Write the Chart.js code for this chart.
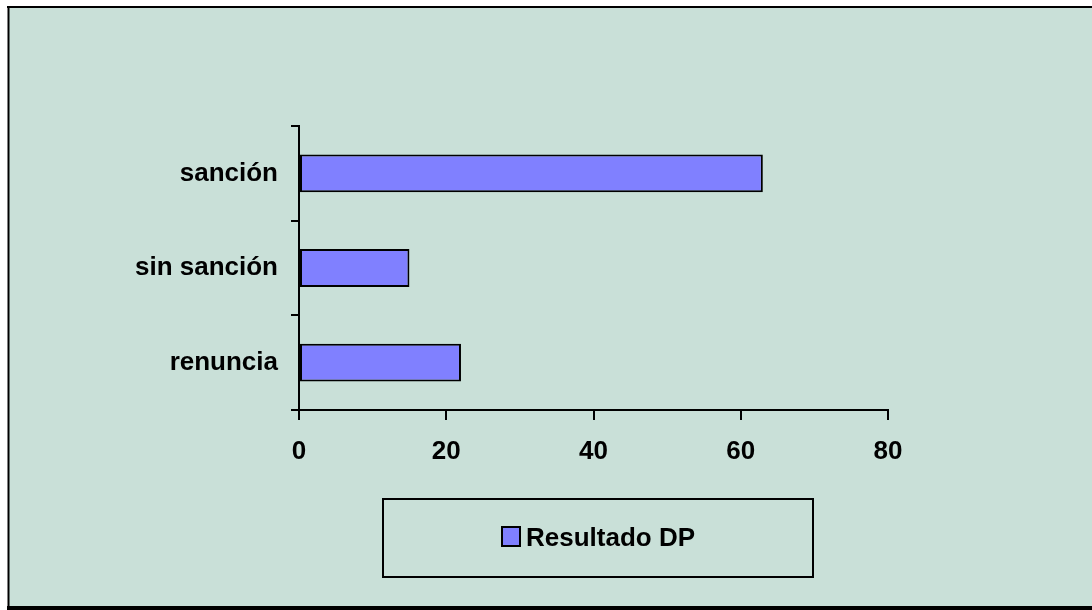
<!DOCTYPE html>
<html>
<head>
<meta charset="utf-8">
<script src="https://cdn.jsdelivr.net/npm/chart.js@4/dist/chart.umd.min.js"></script>
<style>
  html, body { margin: 0; padding: 0; background: #ffffff; }
  #wrap { width: 1092px; height: 610px; position: relative; }
</style>
</head>
<body>
<div id="wrap"><canvas id="c" width="1092" height="610"></canvas></div>
<script>
// Categories and values of the chart
const categories = ['sanción', 'sin sanción', 'renuncia'];
const seriesLabel = 'Resultado DP';
const seriesValues = [63, 15, 22];
const axisMin = 0;
const axisMax = 80;
const axisStep = 20;

const FONT = "'Liberation Sans', Arial, Helvetica, sans-serif";
const PANEL = '#C9E0D8';
const BAR = '#8080FF';

// Panel background and frame drawn behind the chart
const framePlugin = {
  id: 'frame',
  beforeDraw(chart) {
    const ctx = chart.ctx;
    ctx.save();
    ctx.fillStyle = '#ffffff';
    ctx.fillRect(0, 0, chart.width, chart.height);
    ctx.fillStyle = PANEL;
    ctx.fillRect(8, 7, chart.width - 8, chart.height - 7);
    ctx.strokeStyle = '#000000';
    ctx.lineWidth = 2;
    ctx.beginPath();
    ctx.moveTo(7, 7); ctx.lineTo(chart.width, 7);
    ctx.moveTo(8.5, 6); ctx.lineTo(8.5, chart.height);
    ctx.stroke();
    ctx.lineWidth = 4;
    ctx.beginPath();
    ctx.moveTo(7, 608); ctx.lineTo(chart.width, 608);
    ctx.stroke();
    ctx.restore();
  }
};

// Boxed legend below the axis
const boxedLegend = {
  id: 'boxedLegend',
  afterDraw(chart) {
    const ctx = chart.ctx;
    const ds = chart.data.datasets[0];
    ctx.save();
    ctx.strokeStyle = '#000000';
    ctx.lineWidth = 2;
    ctx.strokeRect(383, 499, 430, 78);
    ctx.fillStyle = ds.backgroundColor;
    ctx.fillRect(502, 527, 18, 19);
    ctx.strokeRect(502, 527, 18, 19);
    ctx.fillStyle = '#000000';
    ctx.font = 'bold 26px ' + FONT;
    ctx.textBaseline = 'alphabetic';
    ctx.textAlign = 'left';
    ctx.fillText(ds.label, 526, 546);
    ctx.restore();
  }
};

new Chart(document.getElementById('c'), {
  type: 'bar',
  data: {
    labels: categories,
    datasets: [{
      label: seriesLabel,
      data: seriesValues,
      backgroundColor: BAR,
      borderColor: '#000000',
      borderWidth: 2,
      borderSkipped: false,
      barPercentage: 0.4,
      categoryPercentage: 1.0
    }]
  },
  options: {
    indexAxis: 'y',
    responsive: false,
    animation: false,
    layout: { padding: { left: 0, top: 126, right: 204, bottom: 140 } },
    plugins: {
      legend: { display: false },
      tooltip: { enabled: false }
    },
    scales: {
      x: {
        type: 'linear',
        min: axisMin,
        max: axisMax,
        ticks: {
          stepSize: axisStep,
          color: '#000000',
          font: { family: FONT, size: 26, weight: 'bold' },
          padding: 16,
          maxRotation: 0
        },
        grid: {
          drawOnChartArea: false,
          drawTicks: true,
          tickLength: 10,
          color: '#000000',
          lineWidth: 2
        },
        border: { display: true, color: '#000000', width: 2 },
        afterFit(scale) { scale.height = 60; }
      },
      y: {
        type: 'category',
        ticks: {
          color: '#000000',
          font: { family: FONT, size: 26, weight: 'bold' },
          padding: 13
        },
        grid: {
          offset: true,
          drawOnChartArea: false,
          drawTicks: true,
          tickLength: 8,
          color: '#000000',
          lineWidth: 2
        },
        border: { display: true, color: '#000000', width: 2 },
        afterFit(scale) { scale.width = 299; }
      }
    }
  },
  plugins: [framePlugin, boxedLegend]
});
</script>
</body>
</html>
